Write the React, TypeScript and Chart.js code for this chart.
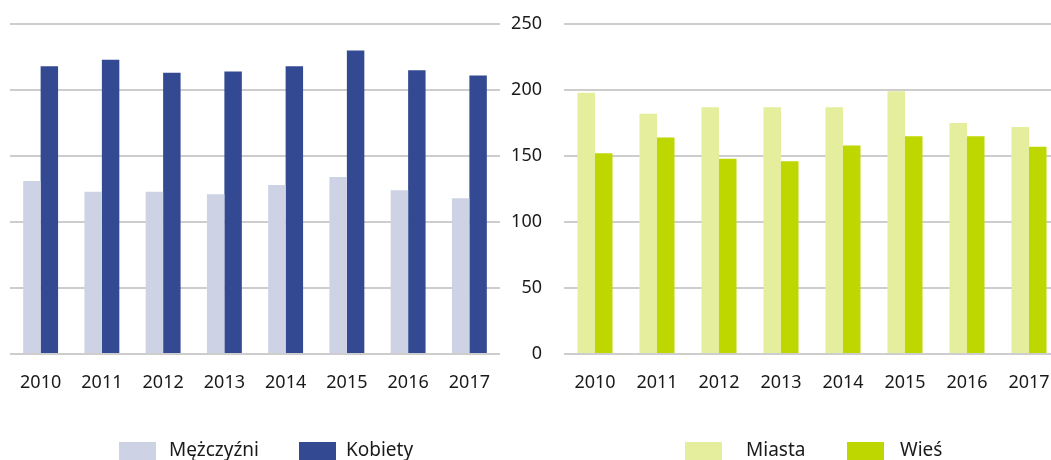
import React, { useEffect, useRef } from "react";
import { Chart, registerables } from "chart.js";

Chart.register(...registerables);

const years = ["2010", "2011", "2012", "2013", "2014", "2015", "2016", "2017"];
const mezczyzni = [131, 123, 123, 121, 128, 134, 124, 118];
const kobiety = [218, 223, 213, 214, 218, 230, 215, 211];
const miasta = [198, 182, 187, 187, 187, 199, 175, 172];
const wies = [152, 164, 148, 146, 158, 165, 165, 157];
const yMin = 0;
const yMax = 250;
const yStep = 50;

const FONT = '"Noto Sans", "Open Sans", sans-serif';
const TEXT = "#1a1a1a";
const GRID = "#cdcdcd";

const legendPlugin = {
  id: "customLegend",
  afterDraw(chart: any, _args: any, opts: any) {
    const ctx = chart.ctx;
    ctx.save();
    const ds = chart.data.datasets;
    (opts.items || []).forEach((it: any, i: number) => {
      ctx.fillStyle = ds[i].backgroundColor;
      ctx.fillRect(it.boxX, 442, 37, 19);
      ctx.fillStyle = TEXT;
      ctx.font = "19px " + FONT;
      ctx.textBaseline = "middle";
      ctx.textAlign = "left";
      ctx.fillText(ds[i].label, it.textX, 451);
    });
    ctx.restore();
  },
};

function makeConfig(
  a: { label: string; data: number[]; color: string },
  b: { label: string; data: number[]; color: string },
  showY: boolean,
  legendItems: any[],
  catPct: number
): any {
  return {
    type: "bar",
    data: {
      labels: years,
      datasets: [a, b].map((d) => ({
        label: d.label,
        data: d.data,
        backgroundColor: d.color,
        borderWidth: 0,
        barPercentage: 1,
        categoryPercentage: catPct,
      })),
    },
    options: {
      responsive: false,
      animation: false,
      devicePixelRatio: 1,
      layout: { padding: { top: 24, left: showY ? 0 : 10, right: 0, bottom: 0 } },
      plugins: {
        legend: { display: false },
        tooltip: { enabled: false },
        customLegend: { items: legendItems },
      },
      scales: {
        x: {
          grid: { display: false, drawTicks: false },
          border: { display: false },
          ticks: {
            color: TEXT,
            font: { family: FONT, size: 18 },
            padding: 18,
            maxRotation: 0,
          },
          afterFit(scale: any) {
            scale.height = 106;
            scale.paddingLeft = 0;
            scale.paddingRight = 0;
          },
        },
        y: {
          min: yMin,
          max: yMax,
          grid: { color: GRID, lineWidth: 2, drawTicks: false },
          border: { display: false },
          ticks: {
            display: showY,
            stepSize: yStep,
            color: TEXT,
            font: { family: FONT, size: 18 },
            padding: 22,
          },
          afterFit(scale: any) {
            scale.width = showY ? 64 : 0;
            scale.paddingTop = 0;
            scale.paddingBottom = 0;
          },
        },
      },
    },
    plugins: [legendPlugin],
  };
}

export default function App() {
  const leftRef = useRef<HTMLCanvasElement>(null);
  const rightRef = useRef<HTMLCanvasElement>(null);

  useEffect(() => {
    const left = new Chart(
      leftRef.current as HTMLCanvasElement,
      makeConfig(
        { label: "Mężczyźni", data: mezczyzni, color: "#cdd2e5" },
        { label: "Kobiety", data: kobiety, color: "#334a93" },
        false,
        [
          { boxX: 119, textX: 169 },
          { boxX: 299, textX: 346 },
        ],
        0.57
      )
    );
    const right = new Chart(
      rightRef.current as HTMLCanvasElement,
      makeConfig(
        { label: "Miasta", data: miasta, color: "#e4ee9d" },
        { label: "Wieś", data: wies, color: "#bfd700" },
        true,
        [
          { boxX: 185, textX: 246 },
          { boxX: 347, textX: 400 },
        ],
        0.565
      )
    );
    return () => {
      left.destroy();
      right.destroy();
    };
  }, []);

  return (
    <div
      style={{
        position: "fixed",
        left: 0,
        top: 0,
        width: 1051,
        height: 460,
        overflow: "hidden",
        background: "#ffffff",
      }}
    >
      <canvas
        ref={leftRef}
        width={500}
        height={460}
        style={{ position: "absolute", left: 0, top: 0 }}
      />
      <canvas
        ref={rightRef}
        width={560}
        height={460}
        style={{ position: "absolute", left: 500, top: 0 }}
      />
    </div>
  );
}
